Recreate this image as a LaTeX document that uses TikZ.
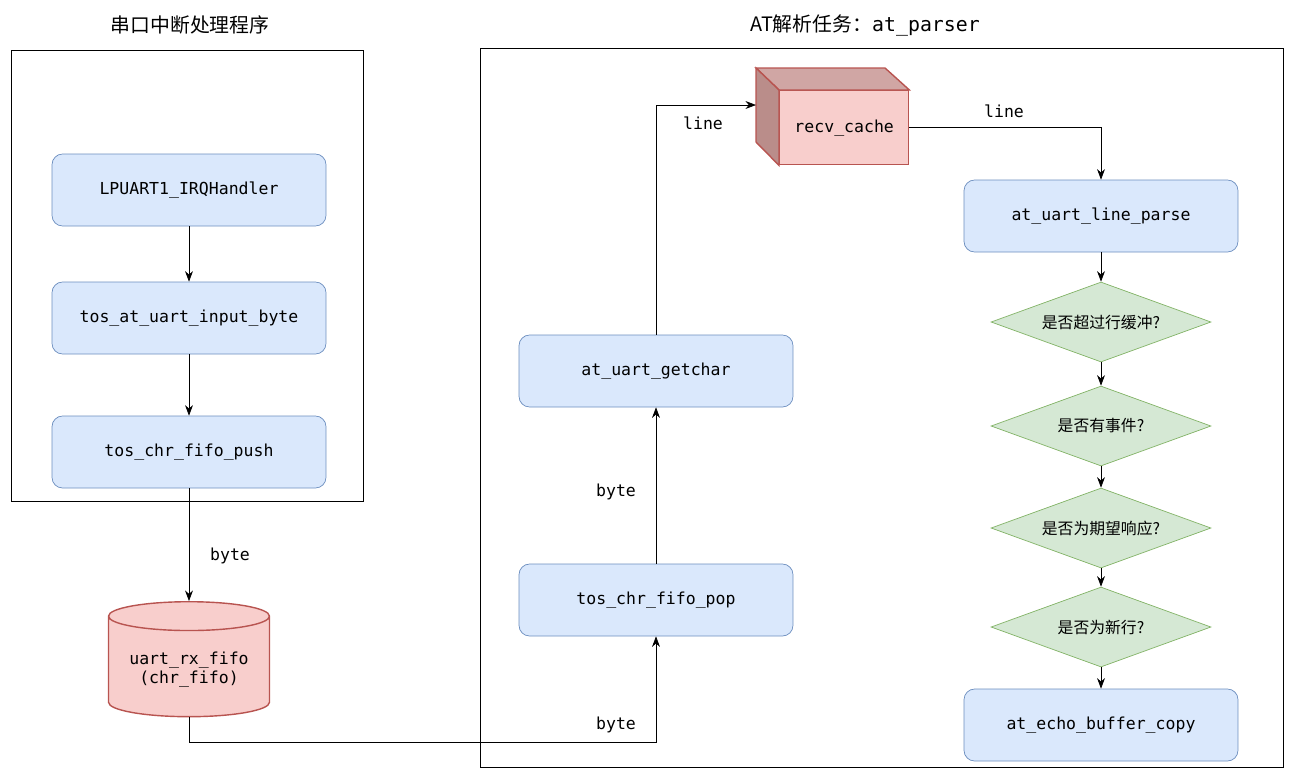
\documentclass[tikz,border=0pt]{standalone}
\usepackage{fontspec}
\setmainfont{Noto Sans CJK SC}
\setmonofont{DejaVu Sans Mono}
\usetikzlibrary{shapes.geometric,calc,arrows.meta}
\definecolor{procfill}{HTML}{DAE8FC}
\definecolor{procline}{HTML}{6C8EBF}
\definecolor{decfill}{HTML}{D5E8D4}
\definecolor{decline}{HTML}{82B366}
\definecolor{storefill}{HTML}{F8CECC}
\definecolor{storeline}{HTML}{B85450}
\tikzset{
	proc/.style={draw=procline,fill=procfill,rounded corners=6pt,minimum width=5.48cm,minimum height=1.44cm,font=\ttfamily\fontsize{9.4}{11}\selectfont},
	dec/.style={diamond,draw=decline,fill=decfill,aspect=2.75,minimum width=4.4cm,minimum height=1.6cm,inner sep=0pt,font=\fontsize{9}{11}\selectfont},
	store/.style={draw=storeline,fill=storefill,thick},
	flow/.style={-{Stealth[length=6pt]},thin},
	lab/.style={font=\ttfamily\fontsize{9.4}{11}\selectfont}
}
\begin{document}
\begin{tikzpicture}[x=0.02cm,y=-0.02cm]
	\useasboundingbox (0,0) rectangle (1294,772);
	% left frame
	\draw (11,50) rectangle (363,501);
	\node[font=\fontsize{11.3}{13}\selectfont] (ltitle) at (190,25) {串口中断处理程序};
	\node[proc] (irq) at (189,190) {LPUART1\_IRQHandler};
	\node[proc] (input) at (189,318) {tos\_at\_uart\_input\_byte};
	\node[proc] (push) at (189,452) {tos\_chr\_fifo\_push};
	\node[cylinder,shape border rotate=90,aspect=0.22,store,minimum width=3.22cm,minimum height=2.3cm,align=center,lab,anchor=north] (fifo) at (189,601) {uart\_rx\_fifo\\(chr\_fifo)};
	% right frame
	\draw (480,48) rectangle (1283,767);
	\node[font=\fontsize{11.3}{13}\selectfont] (rtitle) at (865,25) {AT解析任务：\texttt{at\_parser}};
	\node[proc] (getc) at (656,371) {at\_uart\_getchar};
	\node[proc] (pop) at (656,600) {tos\_chr\_fifo\_pop};
	\node[store,minimum width=2.58cm,minimum height=1.48cm,inner sep=0pt,lab,anchor=north west] (cache) at (779,90) {recv\_cache};
	\fill[storefill!85!black!90!storeline,draw=storeline,thick] (cache.north west) -- ++(-23,-22) -- ++(129,0) -- (cache.north east) -- cycle;
	\fill[storefill!75!black!80!storeline,draw=storeline,thick] (cache.north west) -- ++(-23,-22) -- ++(0,74) -- (cache.south west) -- cycle;
	\coordinate (cachein) at ($(cache.north west)+(-23,15)$);
	\node[proc] (parse) at (1101,216) {at\_uart\_line\_parse};
	\node[dec] (d1) at (1101,322) {是否超过行缓冲?};
	\node[dec] (d2) at (1101,426) {是否有事件?};
	\node[dec] (d3) at (1101,528) {是否为期望响应?};
	\node[dec] (d4) at (1101,627) {是否为新行?};
	\node[proc] (echo) at (1101,725) {at\_echo\_buffer\_copy};
	% connectors
	\draw[flow] (irq) -- (input);
	\draw[flow] (input) -- (push);
	\draw[flow] (push) -- (fifo.north);
	\node[lab] (b1) at (230,556) {byte};
	\draw[flow] (fifo.south) |- (656,742) -- (pop.south);
	\node[lab] (b2) at (616,725) {byte};
	\draw[flow] (pop) -- (getc);
	\node[lab] (b3) at (616,492) {byte};
	\draw[flow] (getc.north) |- (cachein);
	\node[lab] (l1) at (703,123) {line};
	\draw[flow] (cache.east) -| (parse.north);
	\node[lab] (l2) at (1004,111) {line};
	\draw[flow] (parse) -- (d1);
	\draw[flow] (d1) -- (d2);
	\draw[flow] (d2) -- (d3);
	\draw[flow] (d3) -- (d4);
	\draw[flow] (d4) -- (echo);
\end{tikzpicture}
\end{document}
